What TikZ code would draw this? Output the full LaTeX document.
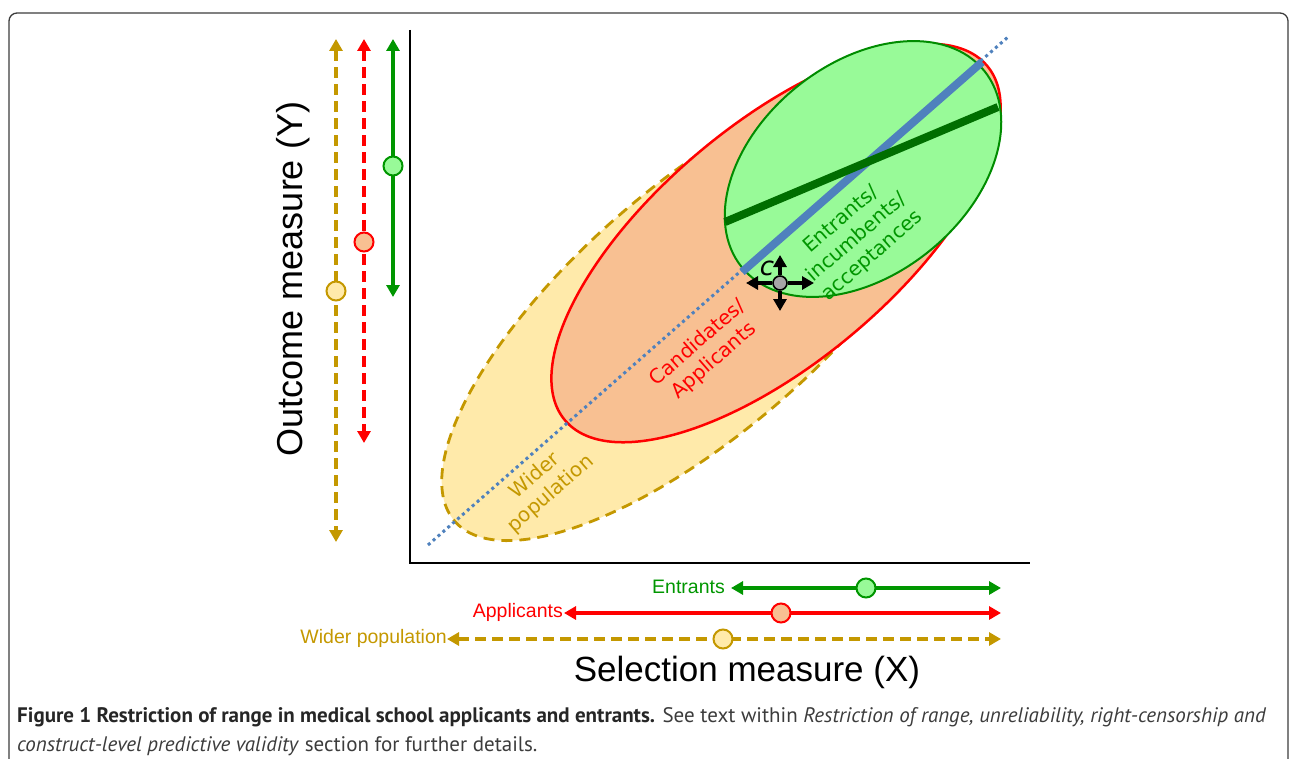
\documentclass[tikz,border=0pt]{standalone}
\usepackage{fontspec}
\setmainfont{Liberation Sans}
\newfontfamily\dejavu{DejaVu Sans}
\newfontfamily\capfont{PT Sans}
\usetikzlibrary{arrows.meta}
\definecolor{gold}{RGB}{196,152,0}
\definecolor{goldfill}{RGB}{255,234,170}
\definecolor{redfill}{RGB}{248,192,146}
\definecolor{gfill}{RGB}{152,250,152}
\definecolor{gline}{RGB}{0,140,0}
\definecolor{garrow}{RGB}{0,150,0}
\definecolor{dgreen}{RGB}{0,110,0}
\definecolor{bblue}{RGB}{79,129,189}
\definecolor{capgray}{RGB}{60,60,60}
\begin{document}
\begin{tikzpicture}[x=1pt,y=-1pt,
  >={Triangle[width=13pt,length=12pt]},
  rangearrow/.style={<->,line width=3.5pt},
  dashedrange/.style={rangearrow,dash pattern=on 11pt off 6pt},
  dot/.style={circle,draw,line width=2pt,minimum size=19pt,inner sep=0pt},
  ellabel/.style={rotate=41,align=center,font=\dejavu\fontsize{20}{24}\selectfont},
  barlabel/.style={font=\fontsize{19.5}{22}\selectfont},
  carrow/.style={-{Triangle[width=13pt,length=12pt]},line width=3.3pt,black}]
\useasboundingbox (0,0) rectangle (1292,759);
% frame
\draw[capgray,line width=1.3pt,rounded corners=8pt] (9,770) -- (9,13) -- (1288,13) -- (1288,770);
% ellipses
\draw[gold,fill=goldfill,line width=2.8pt,dash pattern=on 11pt off 7pt] (700,308) ellipse [x radius=325pt,y radius=123pt,rotate=41];
\draw[red,fill=redfill,line width=2.5pt] (776,243) ellipse [x radius=275.6pt,y radius=119pt,rotate=40];
% regression line (dotted)
\coordinate (dl0) at (428,545);
\coordinate (dl1) at (1008,37);
\draw[bblue,line width=3pt,dash pattern=on 3pt off 3.5pt] (dl0) -- (dl1);
\draw[gline,fill=gfill,line width=2pt] (863,169) ellipse [x radius=156pt,y radius=105.5pt,rotate=39];
\coordinate (bl0) at (742,272);
\coordinate (bl1) at (982,62);
\draw[bblue,line width=8pt] (bl0) -- (bl1);
\coordinate (gl0) at (725,222);
\coordinate (gl1) at (998,107);
\draw[dgreen,line width=8pt] (gl0) -- (gl1);
% ellipse labels
\node[ellabel,text=garrow] (lent) at (857,238) {Entrants/\\incumbents/\\acceptances};
\node[ellabel,text=red] (lapp) at (706,352) {Candidates/\\Applicants};
\node[ellabel,text=gold] (lwid) at (543,485) {Wider\\population};
% axes
\coordinate (ax0) at (410,30);
\coordinate (ax1) at (410,563);
\coordinate (ax2) at (1030,563);
\draw[black,line width=2.5pt] (ax0) -- (ax1) -- (ax2);
\node[rotate=90,font=\fontsize{36}{40}\selectfont] (ylab) at (293,279) {Outcome measure (Y)};
\node[font=\fontsize{35}{40}\selectfont] (xlab) at (747,672) {Selection measure (X)};
% left vertical ranges
\coordinate (gyT) at (336,39);  \coordinate (gyB) at (336,542);
\coordinate (ryT) at (364,39);  \coordinate (ryB) at (364,443);
\coordinate (eyT) at (393,39);  \coordinate (eyB) at (393,297);
\draw[dashedrange,gold] (gyT) -- (gyB);
\draw[dashedrange,red] (ryT) -- (ryB);
\draw[rangearrow,garrow] (eyT) -- (eyB);
\node[dot,draw=gold,fill=goldfill] (gyC) at (336,291) {};
\node[dot,draw=red,fill=redfill] (ryC) at (364,242) {};
\node[dot,draw=garrow,fill=gfill] (eyC) at (393,166) {};
% bottom horizontal ranges
\coordinate (exL) at (731,588); \coordinate (exR) at (1001,588);
\coordinate (rxL) at (564,613); \coordinate (rxR) at (1001,613);
\coordinate (gxL) at (447,639); \coordinate (gxR) at (1001,639);
\draw[rangearrow,garrow] (exL) -- (exR);
\draw[rangearrow,red] (rxL) -- (rxR);
\draw[dashedrange,gold] (gxL) -- (gxR);
\node[dot,draw=garrow,fill=gfill] (exC) at (866,588) {};
\node[dot,draw=red,fill=redfill] (rxC) at (781,613) {};
\node[dot,draw=gold,fill=goldfill] (gxC) at (723,639) {};
\node[barlabel,text=garrow,anchor=east,inner sep=0pt] (entl) at (725,587) {Entrants};
\node[barlabel,text=red,anchor=east,inner sep=0pt] (appl) at (563,612) {Applicants};
\node[barlabel,text=gold,anchor=east,inner sep=0pt] (widl) at (447,638) {Wider population};
% c marker
\coordinate (cu) at (780,255);
\coordinate (cd) at (780,311);
\coordinate (cl) at (746,283);
\coordinate (cr) at (814,283);
\node[circle,draw=black,fill=black!35,line width=1.6pt,minimum size=14pt,inner sep=0pt] (cc) at (780,283) {};
\draw[carrow] (cc) -- (cu);
\draw[carrow] (cc) -- (cd);
\draw[carrow] (cc) -- (cl);
\draw[carrow] (cc) -- (cr);
\node[font=\dejavu\itshape\fontsize{26}{26}\selectfont,inner sep=0pt] (clab) at (767,268) {c};
% caption
\node[anchor=base west,inner sep=0pt,font=\capfont\fontsize{21}{26}\selectfont,text=capgray] (cap1) at (17,722)
  {\textbf{\color{black!85}Figure 1 Restriction of range in medical school applicants and entrants.} See text within \textit{Restriction of range, unreliability, right-censorship and}};
\node[anchor=base west,inner sep=0pt,font=\capfont\fontsize{21}{26}\selectfont,text=capgray] (cap2) at (17,751)
  {\textit{construct-level predictive validity} section for further details.};
\end{tikzpicture}
\end{document}
